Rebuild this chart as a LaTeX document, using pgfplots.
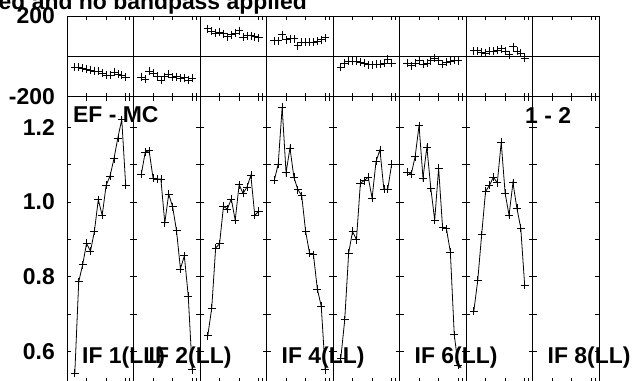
\documentclass[border=0pt]{standalone}
\usepackage{fontspec}
\setmainfont{Liberation Sans}
\usepackage{pgfplots}
\usepgfplotslibrary{groupplots}
\pgfplotsset{compat=1.18}
\usepackage{pgfplotstable}

\pgfplotstableread{
ch p1 p2 p3 p4 p5 p6 p7
2 0.543 1.074 0.643 1.058 0.583 1.080 0.708
3 0.787 1.133 0.716 1.101 0.685 1.074 0.790
4 0.832 1.137 0.877 1.253 0.863 1.121 0.912
5 0.889 1.063 0.888 1.078 0.921 1.204 1.028
6 0.868 1.061 0.988 1.144 0.899 1.064 1.044
7 0.921 1.061 0.981 1.066 1.050 1.146 1.066
8 1.006 0.944 1.008 1.033 1.057 1.037 1.051
9 0.964 1.021 0.951 1.017 1.066 0.951 1.159
10 1.044 0.987 1.046 0.921 1.010 1.090 1.024
11 1.069 0.923 1.023 0.863 1.108 0.933 0.964
12 1.115 0.821 1.039 0.859 1.139 0.928 1.051
13 1.171 0.856 1.071 0.767 1.034 0.866 0.984
14 1.220 0.748 0.964 0.721 1.034 0.645 0.930
15 1.045 0.552 0.975 0.552 1.101 0.563 0.777
}\bottomdata

\pgfplotstableread{
ch t1 t2 t3 t4 t5 t6 t7
2 -55 -102 137 78 -55 -35 28
3 -55 -113 125 78 -35 -47 28
4 -58 -72 115 108 -25 -35 20
5 -63 -85 120 82 -25 -22 15
6 -67 -97 112 87 -25 -38 25
7 -72 -117 98 87 -30 -35 25
8 -75 -100 108 53 -35 -22 32
9 -82 -88 115 70 -42 -8 38
10 -92 -102 128 70 -42 -22 25
11 -92 -100 95 70 -38 -38 8
12 -77 -108 103 70 -38 -30 48
13 -88 -105 103 75 -35 -25 25
14 -92 -118 98 82 -13 -18 15
15 -102 -108 92 92 -35 -22 -10
}\topdata

\newcommand{\bigfont}{\fontsize{23}{23}\selectfont\bfseries}

\pgfplotsset{
  toprow/.style={height=80.7bp, ymin=-200, ymax=200, ytick=\empty},
  botrow/.style={height=285bp, ymin=0.5196, ymax=1.281,
     ytick={0.6,0.7,0.8,0.9,1.0,1.1,1.2}, yticklabels={}},
  topplot/.style={only marks, black, mark=+, mark size=4bp, mark options={line width=0.7bp}},
  botplot/.style={black, line width=0.8bp, mark=+, mark size=4bp, mark options={line width=0.7bp}},
}
\newcommand{\zl}{\draw[line width=0.8bp] (rel axis cs:0,0.5) -- (rel axis cs:1,0.5);}

\begin{document}
\begin{tikzpicture}[font=\bigfont]
\begin{groupplot}[
  group style={group size=8 by 2, horizontal sep=0pt, vertical sep=0pt},
  scale only axis, width=66.5bp,
  xmin=0, xmax=17, xtick={5,10,15,16}, xticklabels={},
  tick align=inside, tick pos=both, major tick length=4bp,
  axis line style={line width=0.8bp},
  every tick/.style={black, line width=0.6bp},
  clip mode=individual,
  yticklabel style={font=\bigfont, inner sep=0pt, xshift=-12bp},
]
% ---------- top row ----------
\nextgroupplot[toprow, ytick={-200,200}, yticklabels={-200,200}, ytick style={draw=none}]
\zl
\addplot[topplot] table[x=ch,y=t1] {\topdata};
\nextgroupplot[toprow]
\zl
\addplot[topplot] table[x=ch,y=t2] {\topdata};
\nextgroupplot[toprow]
\zl
\addplot[topplot] table[x=ch,y=t3] {\topdata};
\nextgroupplot[toprow]
\zl
\addplot[topplot] table[x=ch,y=t4] {\topdata};
\nextgroupplot[toprow]
\zl
\addplot[topplot] table[x=ch,y=t5] {\topdata};
\nextgroupplot[toprow]
\zl
\addplot[topplot] table[x=ch,y=t6] {\topdata};
\nextgroupplot[toprow]
\zl
\addplot[topplot] table[x=ch,y=t7] {\topdata};
\nextgroupplot[toprow]
\zl
% ---------- bottom row ----------
\nextgroupplot[botrow, yticklabels={0.6,,0.8,,1.0,,1.2}]
\addplot[botplot] table[x=ch,y=p1] {\bottomdata};
\node[anchor=base west, inner sep=0pt] at ([xshift=6bp,yshift=-26bp]rel axis cs:0,1) {EF - MC};
\node[anchor=base west, inner sep=0pt] at ([xshift=15bp,yshift=18bp]rel axis cs:0,0) {IF 1(LL)};
\nextgroupplot[botrow]
\addplot[botplot] table[x=ch,y=p2] {\bottomdata};
\node[anchor=base west, inner sep=0pt] at ([xshift=15bp,yshift=18bp]rel axis cs:0,0) {IF 2(LL)};
\nextgroupplot[botrow]
\addplot[botplot] table[x=ch,y=p3] {\bottomdata};
\nextgroupplot[botrow]
\addplot[botplot] table[x=ch,y=p4] {\bottomdata};
\node[anchor=base west, inner sep=0pt] at ([xshift=15bp,yshift=18bp]rel axis cs:0,0) {IF 4(LL)};
\nextgroupplot[botrow]
\addplot[botplot] table[x=ch,y=p5] {\bottomdata};
\nextgroupplot[botrow]
\addplot[botplot] table[x=ch,y=p6] {\bottomdata};
\node[anchor=base west, inner sep=0pt] at ([xshift=15bp,yshift=18bp]rel axis cs:0,0) {IF 6(LL)};
\nextgroupplot[botrow]
\addplot[botplot] table[x=ch,y=p7] {\bottomdata};
\node[anchor=base west, inner sep=0pt] at ([xshift=59bp,yshift=-27bp]rel axis cs:0,1) {1 - 2};
\nextgroupplot[botrow]
\node[anchor=base west, inner sep=0pt] at ([xshift=15bp,yshift=18bp]rel axis cs:0,0) {IF 8(LL)};
\end{groupplot}
\node[anchor=base east, inner sep=0pt] at ([xshift=240bp,yshift=6bp]group c1r1.north west) {ed and no bandpass applied};
\pgfresetboundingbox
\path[use as bounding box] ([xshift=-67bp,yshift=16bp]group c1r1.north west) rectangle ++(636bp,-381bp);
\end{tikzpicture}
\end{document}
